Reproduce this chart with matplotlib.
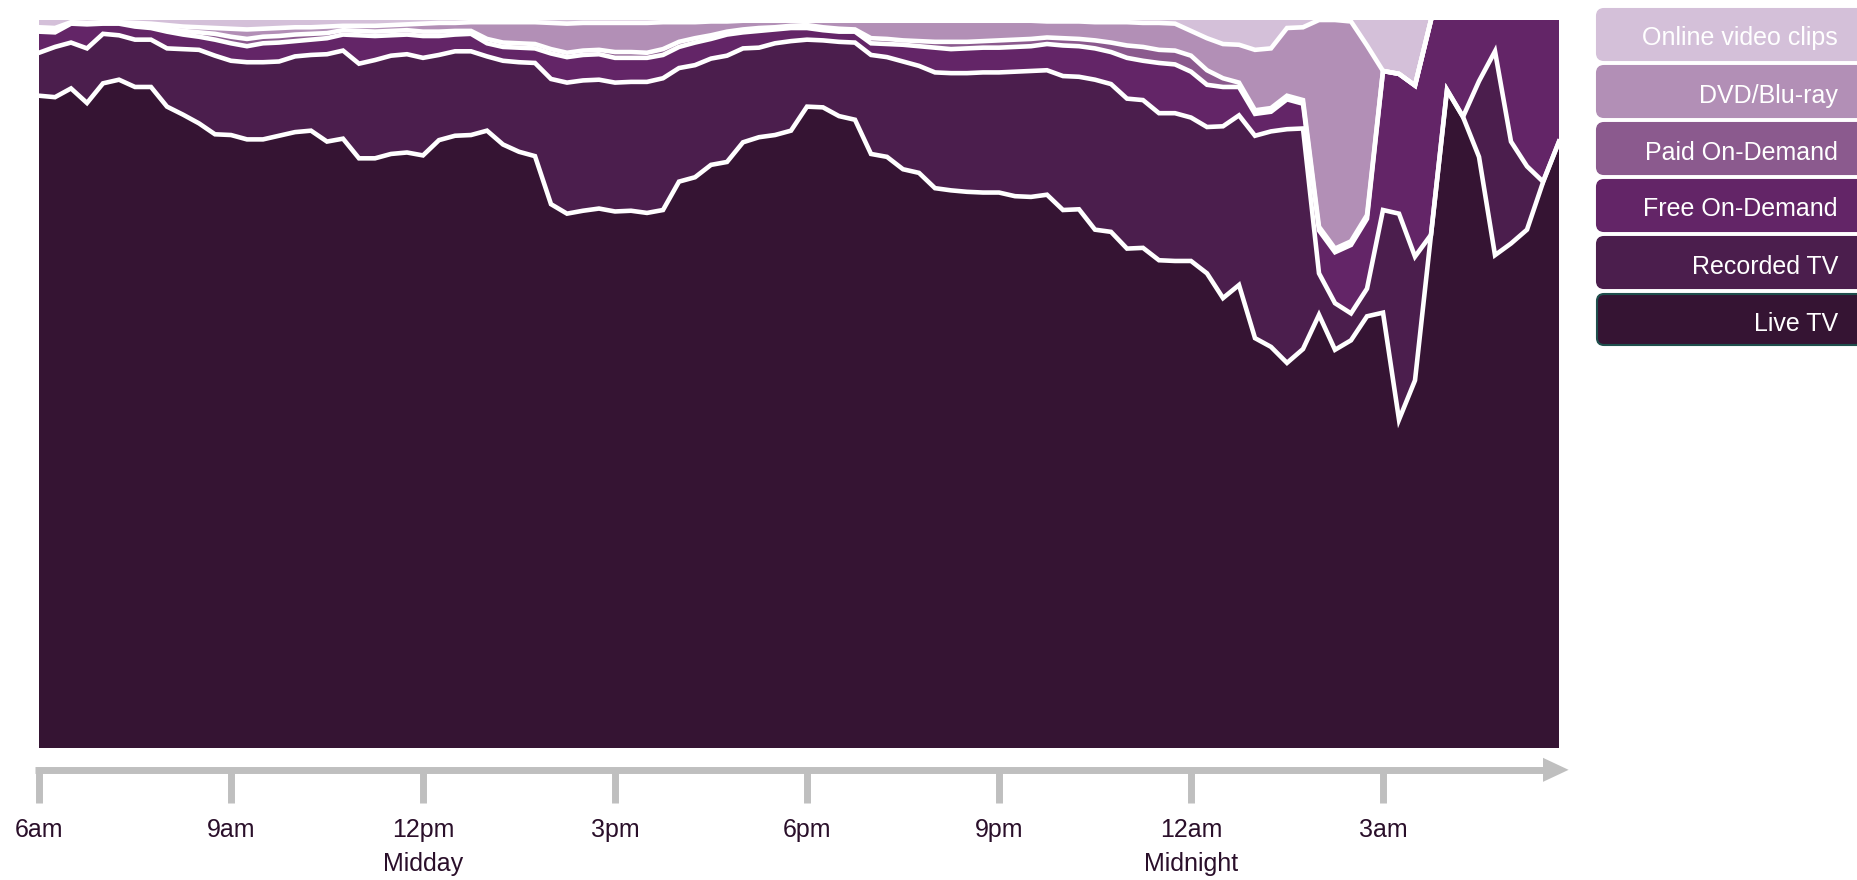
import numpy as np
import matplotlib.pyplot as plt
from matplotlib.patches import FancyBboxPatch, Polygon
from matplotlib.transforms import IdentityTransform

plt.rcParams['font.family'] = ['Liberation Sans Narrow', 'Liberation Sans', 'DejaVu Sans']

# share of viewing (%) every 15 minutes, starting at 6am
live_tv = [89.6, 89.4, 90.6, 88.6, 91.3, 91.8, 90.8, 90.8, 88.1, 87.0,
           85.8, 84.3, 84.2, 83.6, 83.6, 84.1, 84.6, 84.8, 83.3, 83.7,
           81.0, 81.0, 81.6, 81.8, 81.4, 83.5, 84.1, 84.2, 84.8, 82.9,
           81.9, 81.3, 74.7, 73.4, 73.8, 74.1, 73.7, 73.8, 73.5, 73.9,
           77.8, 78.4, 80.1, 80.5, 83.2, 83.9, 84.2, 84.8, 88.1, 88.0,
           86.8, 86.3, 81.6, 81.2, 79.5, 79.0, 76.9, 76.6, 76.4, 76.3,
           76.3, 75.8, 75.7, 76.0, 73.9, 74.0, 71.2, 70.9, 68.6, 68.7,
           67.0, 66.9, 66.9, 65.2, 61.8, 63.6, 56.3, 55.1, 52.9, 54.8,
           59.5, 54.7, 56.0, 59.3, 59.8, 45.1, 50.5, 70.5, 90.4, 86.7,
           81.2, 67.7, 69.3, 71.2, 77.7, 83.3]
recorded_tv = [5.9, 6.9, 6.3, 7.5, 6.8, 6.1, 6.5, 6.5, 8.0, 9.0,
               10.1, 10.8, 10.2, 10.6, 10.6, 10.2, 10.4, 10.4, 12.0, 12.1,
               13.0, 13.5, 13.5, 13.5, 13.4, 11.7, 11.6, 11.5, 10.2, 11.5,
               12.3, 12.8, 17.2, 18.0, 17.9, 17.7, 17.7, 17.7, 18.0, 18.1,
               15.6, 15.4, 14.6, 14.6, 12.9, 12.3, 12.6, 12.3, 9.2, 9.2,
               10.2, 10.6, 13.6, 13.7, 14.8, 14.7, 15.9, 16.1, 16.3, 16.5,
               16.5, 17.1, 17.3, 17.1, 18.4, 18.2, 20.6, 20.3, 20.6, 20.3,
               20.2, 20.3, 19.7, 20.1, 23.6, 23.3, 27.8, 29.6, 32.1, 30.3,
               5.7, 6.4, 3.7, 3.8, 14.1, 28.3, 17.0, 0.0, 0.0, 0.0,
               10.4, 28.0, 14.0, 8.7, 0.1, 0.0]
free_od = [2.9, 2.0, 2.6, 3.3, 1.4, 1.6, 1.8, 1.6, 2.3, 2.0,
           1.8, 2.2, 2.4, 2.2, 2.6, 2.6, 2.1, 2.1, 2.2, 2.2,
           3.9, 3.3, 2.8, 2.7, 3.0, 2.6, 2.3, 2.4, 1.8, 1.9,
           2.0, 2.0, 3.5, 3.5, 3.5, 3.5, 3.4, 3.3, 3.3, 3.2,
           2.9, 3.1, 2.7, 2.9, 2.2, 2.3, 1.9, 1.8, 1.6, 1.4,
           1.4, 1.5, 1.6, 1.8, 2.3, 2.7, 3.4, 3.3, 3.4, 3.4,
           3.4, 3.4, 3.4, 3.6, 4.2, 4.2, 4.3, 4.4, 5.6, 5.4,
           6.9, 6.7, 6.3, 5.8, 5.4, 3.9, 3.0, 2.7, 4.1, 3.4,
           5.9, 7.0, 9.4, 9.6, 19.1, 19.2, 23.5, 29.5, 9.6, 13.3,
           8.4, 4.3, 16.7, 20.1, 22.2, 16.7]
paid_od = [0.3, 0.3, 0.1, 0.1, 0.1, 0.1, 0.3, 0.3, 0.4, 0.5,
           0.6, 0.8, 0.9, 1.0, 0.9, 0.9, 0.9, 0.8, 0.7, 0.6,
           0.6, 0.6, 0.6, 0.6, 0.6, 0.6, 0.5, 0.4, 0.6, 0.6,
           0.6, 0.6, 0.6, 0.6, 0.6, 0.6, 0.8, 0.8, 0.7, 0.8,
           0.7, 0.6, 0.5, 0.4, 0.4, 0.4, 0.3, 0.3, 0.4, 0.4,
           0.4, 0.3, 0.7, 0.7, 0.6, 0.7, 0.8, 1.0, 0.9, 0.9,
           1.0, 1.0, 1.0, 0.9, 1.0, 1.0, 1.1, 1.3, 1.7, 1.9,
           1.8, 1.9, 2.2, 2.0, 1.2, 0.6, 0.5, 0.5, 0.5, 0.5,
           0.5, 0.5, 0.5, 0.5, 0.0, 0.0, 0.0, 0.0, 0.0, 0.0,
           0.0, 0.0, 0.0, 0.0, 0.0, 0.0]
dvd_bluray = [0.3, 0.3, 0.1, 0.1, 0.1, 0.1, 0.2, 0.3, 0.5, 0.6,
              0.7, 0.8, 1.1, 1.3, 1.1, 1.1, 1.0, 0.9, 0.9, 0.6,
              0.7, 0.8, 0.8, 0.8, 1.1, 1.2, 1.1, 1.2, 2.3, 2.8,
              2.9, 3.0, 3.6, 4.0, 3.8, 3.7, 4.0, 4.0, 4.1, 3.7,
              2.7, 2.2, 1.9, 1.4, 1.2, 1.0, 0.9, 0.7, 0.6, 0.9,
              1.1, 1.2, 2.4, 2.5, 2.7, 2.8, 2.9, 2.9, 2.9, 2.8,
              2.7, 2.6, 2.5, 2.2, 2.3, 2.4, 2.5, 2.8, 3.2, 3.3,
              3.7, 3.7, 3.4, 4.4, 4.7, 5.2, 8.3, 8.2, 9.3, 10.0,
              28.4, 31.4, 30.2, 23.3, 0.0, 0.0, 0.0, 0.0, 0.0, 0.0,
              0.0, 0.0, 0.0, 0.0, 0.0, 0.0]
online_clips = [1.0, 1.1, 0.3, 0.4, 0.3, 0.3, 0.4, 0.5, 0.7, 0.9,
                1.0, 1.1, 1.2, 1.3, 1.2, 1.1, 1.0, 1.0, 0.9, 0.8,
                0.8, 0.8, 0.7, 0.6, 0.5, 0.4, 0.4, 0.3, 0.3, 0.3,
                0.3, 0.3, 0.4, 0.5, 0.4, 0.4, 0.4, 0.4, 0.4, 0.3,
                0.3, 0.3, 0.2, 0.2, 0.1, 0.1, 0.1, 0.1, 0.1, 0.1,
                0.1, 0.1, 0.1, 0.1, 0.1, 0.1, 0.1, 0.1, 0.1, 0.1,
                0.1, 0.1, 0.1, 0.2, 0.2, 0.2, 0.3, 0.3, 0.3, 0.4,
                0.4, 0.5, 1.5, 2.5, 3.3, 3.4, 4.1, 3.9, 1.1, 1.0,
                0.0, 0.0, 0.2, 3.5, 7.0, 7.4, 9.0, 0.0, 0.0, 0.0,
                0.0, 0.0, 0.0, 0.0, 0.0, 0.0]

series_names = ['Live TV', 'Recorded TV', 'Free On-Demand', 'Paid On-Demand',
                'DVD/Blu-ray', 'Online video clips']
colors = ['#351433', '#4b1e4d', '#632567', '#8b5a8e', '#b28fb6', '#d4c0d9']

tick_hours = [0, 3, 6, 9, 12, 15, 18, 21]
tick_labels = ['6am', '9am', '12pm\nMidday', '3pm', '6pm', '9pm', '12am\nMidnight', '3am']

hours = np.arange(len(live_tv)) * 0.25
series = [live_tv, recorded_tv, free_od, paid_od, dvd_bluray, online_clips]

fig = plt.figure(figsize=(18.58, 8.80), dpi=100)
ax = fig.add_axes([39 / 1858, 1 - 748 / 880, 1520 / 1858, 728 / 880])
ax.stackplot(hours, *series, colors=colors, linewidth=0)

# white separators between the layers
cum = np.cumsum(np.array(series), axis=0)
for c in cum[:-1]:
    top = c >= 99.95
    hide = top & np.r_[True, top[:-1]] & np.r_[top[1:], True]
    line = np.ma.masked_array(c, mask=hide)
    ax.plot(hours, line, color='white', lw=3.3, solid_joinstyle='miter')

ax.set_xlim(0, 23.75)
ax.set_ylim(0, 100)
ax.axis('off')

# time axis drawn as a grey arrow under the chart
grey = '#bfbfbf'
ax.plot([-0.06, 23.5], [-3.0, -3.0], color=grey, lw=5, clip_on=False,
        solid_capstyle='butt')
ax.add_patch(Polygon([[23.5, -1.35], [23.9, -3.0], [23.5, -4.65]], closed=True,
                     color=grey, clip_on=False, lw=0))
for h, lab in zip(tick_hours, tick_labels):
    ax.plot([h, h], [-3.0, -7.6], color=grey, lw=5, clip_on=False,
            solid_capstyle='butt')
    parts = lab.split('\n')
    ax.text(h, -11.3, parts[0], ha='center', va='center', fontsize=18,
            color='#2a0f2a', clip_on=False)
    if len(parts) > 1:
        ax.text(h, -15.9, parts[1], ha='center', va='center', fontsize=18,
                color='#2a0f2a', clip_on=False)

# legend as stacked rounded boxes on the right
box_tops = [9, 66, 123, 180, 237, 294]
for k, name in enumerate(series_names[::-1]):
    col = colors[::-1][k]
    t = box_tops[k]
    h = 51
    edge = '#1f4f4d' if name == 'Live TV' else col
    fig.patches.append(FancyBboxPatch((1597, 880 - t - h), 300, h,
                                      boxstyle='round,pad=0,rounding_size=7',
                                      fc=col, ec=edge, lw=1.5,
                                      transform=IdentityTransform(), figure=fig))
    fig.text(1838 / 1858, 1 - (t + h / 2 + 4) / 880, name, ha='right', va='center',
             fontsize=18, color='white')

fig.savefig('out.png', dpi=100)
